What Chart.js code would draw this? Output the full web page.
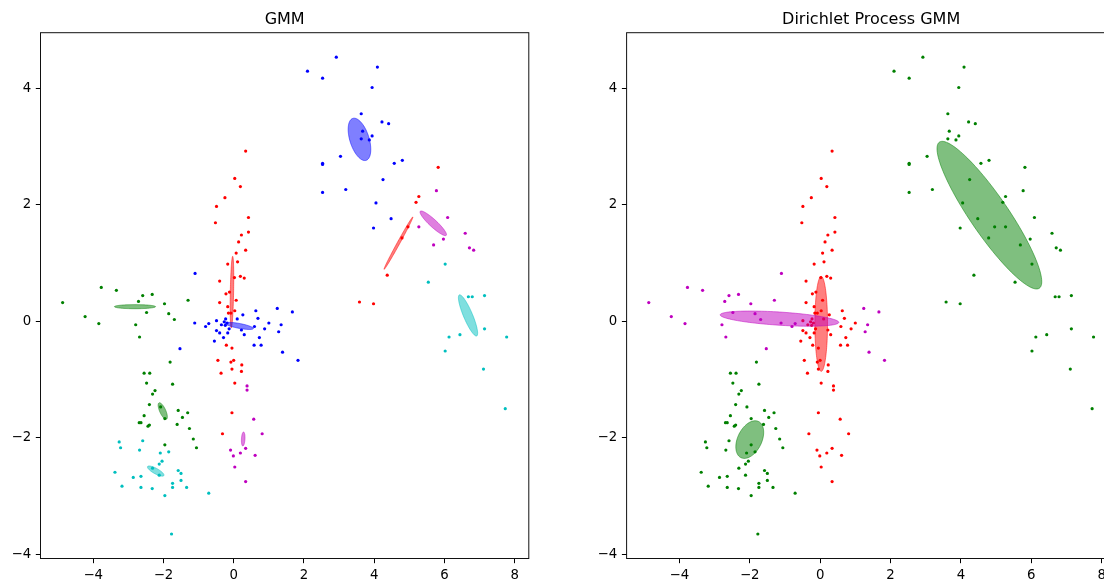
<!DOCTYPE html>
<html>
<head>
<meta charset="utf-8">
<script src="https://cdn.jsdelivr.net/npm/chart.js@4/dist/chart.umd.min.js"></script>
<style>
  html, body { margin: 0; padding: 0; background: #fff; overflow: hidden; width: 1104px; height: 582px; }
  #left { position: absolute; left: 0; top: 0; }
  #right { position: absolute; left: 552px; top: 0; }
</style>
</head>
<body>
<canvas id="left" width="552" height="582"></canvas>
<canvas id="right" width="600" height="582"></canvas>
<script>
// Samples, grouped by how the two models label them
const vertRed = [[0.34,2.92],[0.03,2.45],[0.19,2.31],[-0.25,2.12],[-0.49,1.97],[0.42,1.78],[-0.52,1.69],[0.42,1.53],
  [0.22,1.48],[0.14,1.36],[0.34,1.22],[0.07,1.17],[-0.17,0.98],[0.11,1.02],[-0.40,0.69],[0.19,0.77],[0.30,0.74],
  [0.02,0.75],[-0.22,0.47],[-0.12,0.50],[0.07,0.36],[-0.40,0.32],[-0.17,0.25],[0.03,0.18],[-0.15,0.14],[-0.08,0.14],
  [-0.21,-0.41],[-0.05,-0.46],[-0.45,-0.67],[0.00,-0.67],[-0.08,-0.70],[0.23,-0.75],[-0.05,-0.82],[0.22,-0.86],
  [-0.36,-0.89],[0.03,-1.06],[-0.05,-1.57],[-0.32,-1.93]];
const blueIn = [[-0.49,0.01],[-0.23,0.04],[-0.27,-0.01],[-0.19,-0.03],[-0.35,-0.06],[-0.49,-0.16],[-0.40,-0.20],
  [-0.24,-0.07],[-0.13,-0.13],[-0.17,-0.20],[-0.29,-0.28],[-0.55,-0.34],[0.10,0.04],[0.26,0.11],[0.63,0.18],
  [0.69,0.05],[1.00,-0.03],[0.59,-0.09],[0.88,-0.13],[0.22,-0.15],[0.30,-0.23],[0.73,-0.28],[0.58,-0.41],[0.78,-0.41]];
const blueOut = [[-1.10,0.82],[-1.53,-0.47],[-1.11,-0.03],[-0.80,-0.09],[-0.71,-0.04],[1.24,0.22],[1.67,0.16],
  [1.35,-0.06],[1.28,-0.18],[1.39,-0.53],[1.83,-0.67]];
const lowMagenta = [[0.38,-1.11],[0.38,-1.18],[0.57,-1.68],[0.81,-1.93],[0.34,-2.18],[-0.09,-2.21],[0.19,-2.26],
  [-0.01,-2.31],[0.03,-2.50],[0.34,-2.75],[0.61,-2.30]];
const lowGreen = [[-1.81,-0.70],[-2.55,-0.89],[-2.39,-0.89],[-2.48,-1.06],[-1.74,-1.08],[-2.24,-1.19],[-2.31,-1.25],
  [-2.40,-1.43],[-2.08,-1.47],[-1.58,-1.53],[-1.31,-1.57],[-2.55,-1.62],[-1.46,-1.65],[-1.96,-1.67],[-2.69,-1.74],
  [-2.64,-1.74],[-2.40,-1.78],[-2.44,-1.80],[-1.61,-1.77],[-1.26,-1.84],[-1.15,-2.02],[-1.96,-2.12],[-1.06,-2.17]];
const lowCyan = [[-3.26,-2.07],[-2.59,-2.05],[-3.22,-2.17],[-2.68,-2.21],[-2.09,-2.26],[-1.85,-2.24],[-2.04,-2.40],
  [-2.12,-2.45],[-2.31,-2.52],[-3.38,-2.59],[-1.58,-2.56],[-1.50,-2.61],[-2.12,-2.64],[-2.86,-2.68],[-2.64,-2.66],
  [-1.50,-2.73],[-3.18,-2.83],[-2.64,-2.85],[-2.32,-2.87],[-1.74,-2.78],[-1.74,-2.85],[-1.34,-2.85],[-1.96,-2.99],
  [-0.71,-2.95],[-1.77,-3.65]];
const leftGreen = [[-4.87,0.32],[-3.77,0.58],[-3.34,0.53],[-2.59,0.44],[-2.32,0.46],[-2.71,0.34],[-1.97,0.30],
  [-1.30,0.36],[-4.23,0.08],[-3.84,-0.04],[-2.48,0.15],[-1.85,0.13],[-1.69,0.03],[-2.79,-0.06],[-2.68,-0.27]];
const upBlue = [[2.92,4.53],[2.10,4.29],[2.53,4.17],[4.09,4.36],[3.94,4.01],[3.63,3.56],[4.22,3.42],[4.41,3.39],
  [3.67,3.26],[3.63,3.13],[3.94,3.18],[3.86,3.11],[3.04,2.83],[2.53,2.71],[2.53,2.69],[4.57,2.71],[4.80,2.76],
  [4.25,2.43],[2.53,2.21],[3.19,2.26],[4.05,2.03],[4.48,1.76],[3.98,1.60]];
const upRed = [[5.82,2.64],[5.27,2.14],[5.19,2.04],[4.96,1.62],[4.79,1.43],[4.37,0.79],[3.98,0.30],[3.58,0.33]];
const upMagenta = [[5.77,2.24],[6.09,1.78],[5.27,1.62],[5.97,1.41],[5.69,1.31],[6.59,1.51],[6.71,1.26],[6.83,1.22]];
const rightCyan = [[6.02,0.98],[5.54,0.67],[6.68,0.42],[6.79,0.42],[7.14,0.44],[7.14,-0.13],[6.13,-0.27],
  [6.44,-0.23],[7.77,-0.27],[6.02,-0.51],[7.11,-0.82],[7.73,-1.50]];

// GMM, 10 components: members, colour, mean and two conjugate half-axes of the ellipse
const gmmGroups = [[vertRed], [lowGreen], [blueIn, blueOut], [lowCyan], [lowMagenta],
  [upRed], [leftGreen], [upBlue], [rightCyan], [upMagenta]];
const gmmColors = ['r', 'g', 'b', 'c', 'm', 'r', 'g', 'b', 'c', 'm'];
const gmmMeans = [[-0.05,0.50], [-2.02,-1.54], [0.16,-0.08], [-2.22,-2.57], [0.27,-2.02],
  [4.69,1.34], [-2.81,0.25], [3.58,3.12], [6.67,0.10], [5.68,1.68]];
const gmmAxisA = [[0.02,0.615], [0.105,-0.14], [0.40,-0.045], [0.232,-0.077], [0.01,0.12],
  [0.41,0.45], [0.585,0], [0.19,-0.36], [0.247,-0.352], [0.37,-0.206]];
const gmmAxisB = [[0.047,0], [0.078,0.021], [-0.012,-0.041], [-0.037,-0.041], [0.05,0],
  [0.032,-0.011], [0,0.035], [0.26,0.05], [0.118,0.030], [0.071,0.047]];

// Dirichlet process GMM, 4 used components
const dpGroups = [[vertRed, blueIn, lowMagenta], [upBlue, upRed, upMagenta, rightCyan],
  [leftGreen, blueOut], [lowGreen, lowCyan]];
const dpColors = ['r', 'g', 'm', 'g'];
const dpMeans = [[0.03,-0.045], [4.81,1.82], [-1.155,0.045], [-2.0,-2.03]];
const dpAxisA = [[0,0.815], [1.42,-1.253], [1.685,-0.065], [0.25,0.31]];
const dpAxisB = [[0.18,0], [0.446,0.184], [-0.012,-0.113], [0.307,-0.091]];

const xTicks = [-4, -2, 0, 2, 4, 6, 8];
const yTicks = [-4, -2, 0, 2, 4];

const palette = { b: '0,0,255', g: '0,128,0', r: '255,0,0', c: '0,191,191', m: '191,0,191' };

function buildDatasets(groups, colors, means, axA, axB) {
  return groups.map((grp, k) => {
    const data = [];
    grp.forEach(g => g.forEach(p => data.push({ x: p[0], y: p[1] })));
    const rgb = palette[colors[k]];
    return {
      data: data,
      order: -k,
      backgroundColor: 'rgb(' + rgb + ')',
      borderColor: 'rgb(' + rgb + ')',
      pointRadius: 1.6,
      pointBorderWidth: 0,
      pointHoverRadius: 1.6,
      ellipse: { c: means[k], a: axA[k], b: axB[k], rgb: rgb }
    };
  });
}

// draw each component's covariance ellipse right after its points
const ellipsePlugin = {
  id: 'ellipses',
  afterDatasetDraw(chart, args) {
    const e = chart.data.datasets[args.index].ellipse;
    if (!e) return;
    const xs = chart.scales.x, ys = chart.scales.y, ctx = chart.ctx;
    ctx.save();
    ctx.beginPath();
    for (let i = 0; i <= 120; i++) {
      const t = i / 120 * 2 * Math.PI;
      const x = e.c[0] + e.a[0] * Math.cos(t) + e.b[0] * Math.sin(t);
      const y = e.c[1] + e.a[1] * Math.cos(t) + e.b[1] * Math.sin(t);
      const px = xs.getPixelForValue(x), py = ys.getPixelForValue(y);
      if (i === 0) ctx.moveTo(px, py); else ctx.lineTo(px, py);
    }
    ctx.closePath();
    ctx.fillStyle = 'rgba(' + e.rgb + ',0.5)';
    ctx.fill();
    ctx.strokeStyle = 'rgba(' + e.rgb + ',0.5)';
    ctx.lineWidth = 1;
    ctx.stroke();
    ctx.restore();
  }
};

// matplotlib style box around the axes
const framePlugin = {
  id: 'frame',
  afterDatasetsDraw(chart) {
    const a = chart.chartArea, ctx = chart.ctx;
    ctx.save();
    ctx.strokeStyle = '#111';
    ctx.lineWidth = 1;
    ctx.strokeRect(a.left, a.top, a.right - a.left, a.bottom - a.top);
    ctx.restore();
  }
};

const tickFont = { family: 'DejaVu Sans', size: 13.3 };
const fmt = v => (v < 0 ? '\u2212' + (-v) : '' + v);

function makeChart(id, title, datasets, yWidth, padRight) {
  return new Chart(document.getElementById(id), {
    type: 'scatter',
    data: { datasets: datasets },
    plugins: [ellipsePlugin, framePlugin],
    options: {
      responsive: false,
      animation: false,
      devicePixelRatio: 1,
      layout: { padding: { top: 0, left: 0, bottom: 0, right: padRight } },
      plugins: {
        legend: { display: false },
        tooltip: { enabled: false },
        title: {
          display: true, text: title, fullSize: false, color: '#000',
          font: { family: 'DejaVu Sans', size: 16, weight: 'normal' },
          padding: { top: 10.3, bottom: 3.2 }
        }
      },
      scales: {
        x: {
          type: 'linear', min: -5.5, max: 8.4,
          afterBuildTicks: s => { s.ticks = xTicks.map(v => ({ value: v })); },
          ticks: { font: tickFont, color: '#000', padding: 4.7, maxRotation: 0, callback: fmt },
          grid: { drawOnChartArea: false, drawTicks: true, tickLength: 4.7, color: '#000' },
          border: { display: false },
          afterFit: s => { s.height = 23.5; }
        },
        y: {
          type: 'linear', min: -4.07, max: 4.95,
          afterBuildTicks: s => { s.ticks = yTicks.map(v => ({ value: v })); },
          ticks: { font: tickFont, color: '#000', padding: 4.7, callback: fmt },
          grid: { drawOnChartArea: false, drawTicks: true, tickLength: 4.7, color: '#000' },
          border: { display: false },
          afterFit: s => { s.width = yWidth; }
        }
      }
    }
  });
}

makeChart('left', 'GMM', buildDatasets(gmmGroups, gmmColors, gmmMeans, gmmAxisA, gmmAxisB), 40.5, 23.2);
makeChart('right', 'Dirichlet Process GMM', buildDatasets(dpGroups, dpColors, dpMeans, dpAxisA, dpAxisB), 74.6, 36.3);
</script>
</body>
</html>
